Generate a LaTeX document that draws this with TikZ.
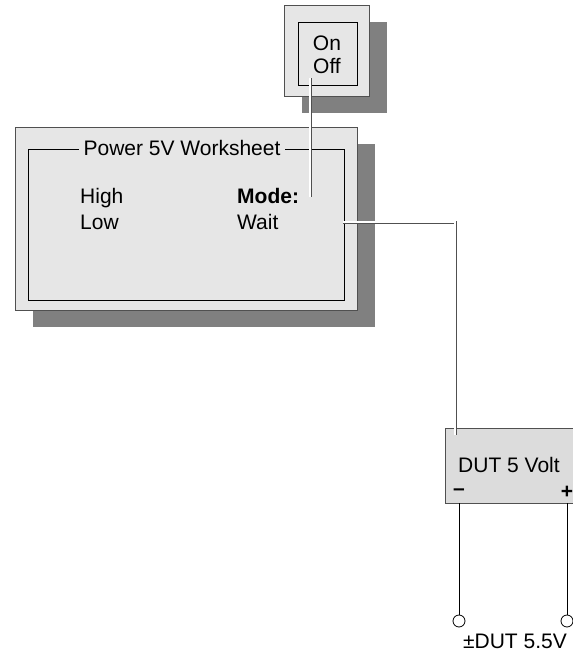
\documentclass[tikz,border=0pt]{standalone}
\usepackage{fontspec}
\setmainfont{Liberation Sans}
\usetikzlibrary{shadows}
\definecolor{boxgray}{HTML}{E6E6E6}
\definecolor{dutgray}{HTML}{DCDCDC}
\definecolor{shadegray}{HTML}{808080}
\definecolor{edgegray}{HTML}{505050}

\begin{document}
\begin{tikzpicture}[x=1pt, y=-1pt,
  every node/.style={font=\fontsize{21}{23}\selectfont, inner sep=0pt},
  panel/.style={draw=edgegray, fill=boxgray, line width=0.8pt,
    general shadow={fill=shadegray, shadow xshift=18pt, shadow yshift=-17pt}},
  frame/.style={draw=black, line width=0.8pt},
  wire/.style={draw=white, line width=1.2pt,
    preaction={draw=edgegray, line width=3pt}},
  lead/.style={draw=black, line width=0.8pt},
  terminal/.style={circle, draw=black, fill=white, line width=0.8pt, minimum size=12pt}
]
\useasboundingbox (0,0) rectangle (573,654);

% switch
\node[panel, minimum width=85pt, minimum height=91pt] (switch) at (326.5,50.5) {};
\node[frame, minimum width=59pt, minimum height=63pt] (switchframe) at (327.5,53.5) {};
\node[anchor=base] (on) at (327,50) {On};
\node[anchor=base] (off) at (327,73) {Off};

% worksheet
\node[panel, minimum width=342pt, minimum height=183pt] (sheet) at (186,218.5) {};
\node[frame, minimum width=316pt, minimum height=151pt] (sheetframe) at (186,224.5) {};
\node[anchor=base, fill=boxgray, inner xsep=5pt] (title) at (182,155) {Power 5V Worksheet};
\node[anchor=base west] (high) at (80,203) {High};
\node[anchor=base west] (low) at (80,229) {Low};
\node[anchor=base west] (mode) at (237,203) {\textbf{Mode:}};
\node[anchor=base west] (wait) at (237,229) {Wait};

% device
\node[draw=edgegray, fill=dutgray, line width=0.8pt, minimum width=130pt, minimum height=75pt] (dut) at (510,465.5) {};
\node[anchor=base west] (dutlabel) at (458,472) {DUT 5 Volt};
\node (minus) at (459,492) {\textbf{–}};
\node (plus) at (567,492) {\textbf{+}};

\node[terminal] (minusterm) at (459,621) {};
\node[terminal] (plusterm) at (567,621) {};
\node[anchor=base] (termlabel) at (515,648) {±DUT 5.5V};

% connectors
\coordinate (swtap) at (310,78);
\coordinate (modetap) at (310,197);
\coordinate (waittap) at (343,222);
\coordinate (duttap) at (455,435);
\draw[wire] (swtap) -- (modetap);
\draw[wire] (waittap) -| (duttap);
\draw[lead] (dut.south -| minusterm) -- (minusterm);
\draw[lead] (dut.south -| plusterm) -- (plusterm);
\end{tikzpicture}
\end{document}
